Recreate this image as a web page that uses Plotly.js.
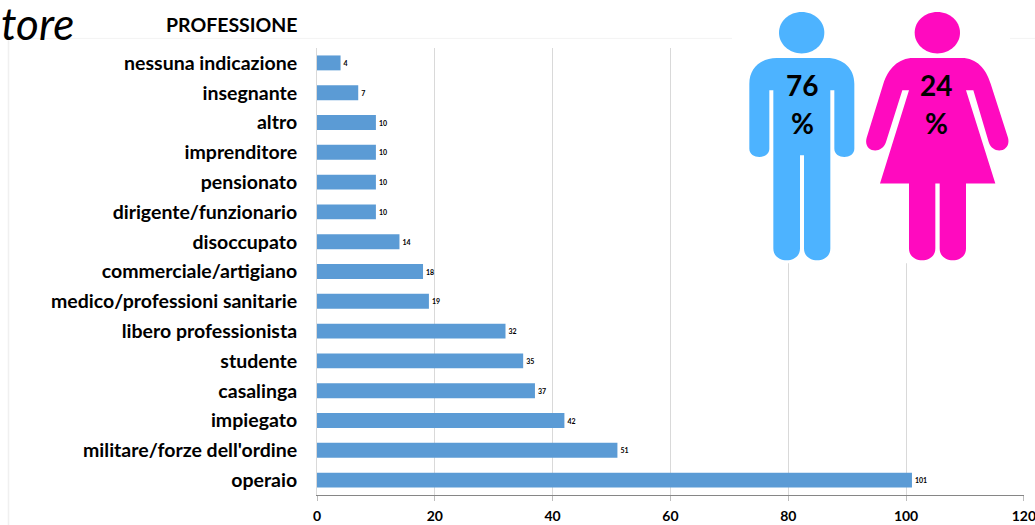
<!DOCTYPE html>
<html><head><meta charset="utf-8">
<script src="https://cdn.plot.ly/plotly-3.0.1.min.js"></script>
<style>html,body{margin:0;padding:0;background:#fff}</style></head>
<body><div id="chart" style="width:1035px;height:525px"></div>
<script>
const categories = ["nessuna indicazione","insegnante","altro","imprenditore","pensionato","dirigente/funzionario","disoccupato","commerciale/artigiano","medico/professioni sanitarie","libero professionista","studente","casalinga","impiegato","militare/forze dell'ordine","operaio"];
const values = [4,7,10,10,10,10,14,18,19,32,35,37,42,51,101];
const xTicks = [0,20,40,60,80,100,120];
const sectionTitle = "PROFESSIONE";
const cutTitle = "tore";
const malePct = "76";
const femalePct = "24";

const W=1035,H=525,M={l:317,r:11,t:47.6,b:30};
const px=x=>(x-M.l)/(W-M.l-M.r);
const py=y=>(H-M.b-y)/(H-M.t-M.b);
// figure outlines are written in the 3x crop's coordinates
function path(s){
  return s.replace(/(-?[\d.]+),(-?[\d.]+)/g,(m,a,b)=>px(a/3+720).toFixed(5)+','+py(b/3).toFixed(5));
}
function head(cx,cy,rx,ry){
  const k=0.5523;
  return path(`M${cx-rx},${cy} C${cx-rx},${cy-k*ry} ${cx-k*rx},${cy-ry} ${cx},${cy-ry} C${cx+k*rx},${cy-ry} ${cx+rx},${cy-k*ry} ${cx+rx},${cy} C${cx+rx},${cy+k*ry} ${cx+k*rx},${cy+ry} ${cx},${cy+ry} C${cx-k*rx},${cy+ry} ${cx-rx},${cy+k*ry} ${cx-rx},${cy} Z`);
}
const manBody = path(`M170,173 L320,173 C370,173 403,205 403,250 L403,445 C403,478 343,478 343,445 L343,270 L331,270 L331,745 C331,792 252,792 252,745 L252,465 L240,465 L240,745 C240,792 160,792 160,745 L160,270 L148,270 L148,445 C148,478 88,478 88,445 L88,250 C88,205 120,173 170,173 Z`);
const womanBody = path(`M580,173 L725,173 C770,173 798,205 812,250 L864,412 C875,455 818,465 806,425 L760,270 L738,270 L826,550 L738,550 L738,745 C738,792 659,792 659,745 L659,550 L646,550 L646,745 C646,792 567,792 567,745 L567,550 L480,550 L567,270 L547,270 L498,425 C485,465 428,455 440,412 L490,250 C505,205 535,173 580,173 Z`);

const frame={color:'#f0f0f0',width:1.5};
const shapes=[
 {type:'line',xref:'paper',yref:'paper',x0:px(8.5),x1:px(8.5),y0:py(38),y1:py(525),line:frame,layer:'below'},
 {type:'line',xref:'paper',yref:'paper',x0:px(8.5),x1:px(1035),y0:py(38),y1:py(38),line:{color:'#f3f3f3',width:1},layer:'below'},
 {type:'rect',xref:'paper',yref:'paper',x0:px(732),x1:px(1010),y0:py(0),y1:py(263),fillcolor:'#fff',line:{width:0},layer:'above'},
 {type:'path',xref:'paper',yref:'paper',path:head(245,97,68,62),fillcolor:'#4db3ff',line:{width:0},layer:'above'},
 {type:'path',xref:'paper',yref:'paper',path:manBody,fillcolor:'#4db3ff',line:{width:0},layer:'above'},
 {type:'path',xref:'paper',yref:'paper',path:head(652,97,68,62),fillcolor:'#ff0abf',line:{width:0},layer:'above'},
 {type:'path',xref:'paper',yref:'paper',path:womanBody,fillcolor:'#ff0abf',line:{width:0},layer:'above'}
];
const F="Lato, 'Open Sans', sans-serif";
function note(t,x,y,size,anchor,extra){
  return Object.assign({text:t,xref:'paper',yref:'paper',x:px(x),y:py(y),xanchor:anchor,yanchor:'middle',showarrow:false,
    font:{family:F,size:size,color:'#000',weight:700}},extra||{});
}
const annotations=[
 note(sectionTitle,299.5,24,19.5,'right'),
 note(cutTitle,-1,23,44,'left',{font:{family:F,size:44,color:'#000',style:'italic',weight:400}}),
 note(malePct,802,85,28,'center'),
 note('%',802,123,28,'center'),
 note(femalePct,936,85,28,'center'),
 note('%',936,123,28,'center')
];
Plotly.newPlot('chart',[{
  type:'bar',orientation:'h',y:categories,x:values,
  marker:{color:'#5b9bd5',line:{color:'rgba(0,0,0,0)',width:3}},
  text:values.map(String),textposition:'outside',cliponaxis:false,
  textfont:{family:F,size:7,color:'#000',weight:700},
  hoverinfo:'x+y'
}],{
  width:W,height:H,margin:M,paper_bgcolor:'#fff',plot_bgcolor:'#fff',showlegend:false,bargap:0.5,
  font:{family:F},
  xaxis:{range:[0,120.02],tickvals:xTicks,ticktext:xTicks.map(String),showgrid:true,gridcolor:'#d9d9d9',gridwidth:1,
    zeroline:false,showline:true,linecolor:'#868686',linewidth:1,ticks:'outside',ticklen:5,tickcolor:'#bdbdbd',tickwidth:1,
    ticklabeloverflow:'allow',ticklabelstandoff:3,
    tickfont:{family:F,size:14,color:'#000',weight:700}},
  yaxis:{autorange:'reversed',type:'category',showgrid:false,zeroline:false,showline:true,linecolor:'#d9d9d9',linewidth:1,
    ticks:'',ticklabelstandoff:15,tickfont:{family:F,size:19.5,color:'#000',weight:700}},
  shapes:shapes,annotations:annotations
},{displayModeBar:false,staticPlot:true});
</script></body></html>
